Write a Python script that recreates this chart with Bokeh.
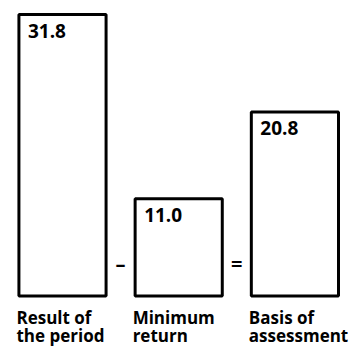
from bokeh.plotting import figure
from bokeh.models import Range1d, ColumnDataSource
from bokeh.core.properties import value
from bokeh.embed import file_html
from bokeh.resources import INLINE

categories_line1 = ["Result of", "Minimum", "Basis of"]
categories_line2 = ["the period", "return", "assessment"]
values = [31.8, 11.0, 20.8]
value_labels = ["31.8", "11.0", "20.8"]
operators = ["\u2013", "="]

W, H = 351, 346
spacing_px = 116.2
first_center_px = 62.0
px_per_unit = 8.85
baseline_px = 295.5
bar_w = 0.75

p = figure(width=W, height=H, output_backend="svg", toolbar_location=None,
           min_border=0, min_border_left=0, min_border_right=0,
           min_border_top=0, min_border_bottom=0)
p.x_range = Range1d(-first_center_px / spacing_px, (W - first_center_px) / spacing_px)
p.y_range = Range1d(-(H - baseline_px) / px_per_unit, baseline_px / px_per_unit)
p.axis.visible = False
p.grid.visible = False
p.outline_line_color = None
p.background_fill_color = "white"
p.border_fill_color = "white"

xs = list(range(len(values)))
src = ColumnDataSource(dict(
    left=[x - bar_w / 2 for x in xs],
    right=[x + bar_w / 2 for x in xs],
    top=values,
    bottom=[0] * len(values),
    lab=value_labels,
    c1=categories_line1,
    c2=categories_line2,
))
p.quad(left="left", right="right", top="top", bottom="bottom", source=src,
       fill_color="white", line_color="black", line_width=3)

font = value("Open Sans")
p.text(x="left", y="top", text="lab", source=src, x_offset=9, y_offset=9,
       text_font=font, text_font_style="bold", text_font_size="19px",
       text_baseline="top", text_align="left", text_color="black")
p.text(x="left", y="bottom", text="c1", source=src, x_offset=-2.5, y_offset=10,
       text_font=font, text_font_style="bold", text_font_size="17px",
       text_baseline="top", text_align="left", text_color="black")
p.text(x="left", y="bottom", text="c2", source=src, x_offset=-2.5, y_offset=28,
       text_font=font, text_font_style="bold", text_font_size="17px",
       text_baseline="top", text_align="left", text_color="black")

op_src = ColumnDataSource(dict(x=[i + 0.5 for i in range(len(operators))],
                               y=[3.7] * len(operators), t=operators))
p.text(x="x", y="y", text="t", source=op_src,
       text_font=font, text_font_style="bold", text_font_size="20px",
       text_baseline="middle", text_align="center", text_color="black")

open("out.html", "w").write(file_html(p, INLINE))
